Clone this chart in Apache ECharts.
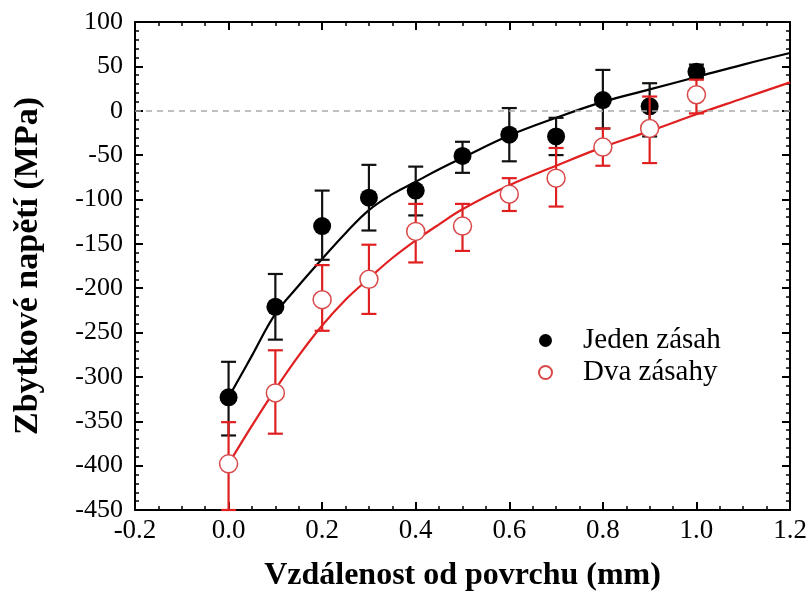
<!DOCTYPE html>
<html><head><meta charset="utf-8">
<script src="https://cdn.jsdelivr.net/npm/echarts@6/dist/echarts.min.js"></script>
<style>html,body{margin:0;padding:0;background:#fff}#c{width:811px;height:597px}</style>
</head><body><div id="c"></div><script>
// measured points
const xPoints  = [0.0, 0.1, 0.2, 0.3, 0.4, 0.5, 0.6, 0.7, 0.8, 0.9, 1.0];
const jedenMean = [-323, -221, -130, -98, -90, -51, -27, -29, 12, 5, 44];
const jedenLow  = [-366, -258, -168, -135, -118, -70, -57, -50, -20, -29, 37];
const jedenHigh = [-283, -184, -90, -61, -63, -35, 3, -8, 46, 31, 52];
const dvaMean = [-398, -318, -213, -190, -136, -130, -94, -76, -41, -20, 18];
const dvaLow  = [-450, -364, -248, -229, -171, -158, -113, -108, -62, -59, -3];
const dvaHigh = [-351, -270, -174, -151, -105, -105, -76, -42, -20, 16, 35];
// fitted curves
const fitX      = [0, 0.05, 0.1, 0.15, 0.2, 0.25, 0.3, 0.35, 0.4, 0.45, 0.5, 0.6, 0.7, 0.8, 0.9, 1.0, 1.1, 1.2];
const jedenFit  = [-323, -276, -229, -197, -167, -138, -112, -94, -80, -66, -53, -28, -8, 10, 24, 38, 52, 65];
const dvaFit    = [-398, -355, -314, -276, -242, -213, -189, -166, -146, -128, -111, -84, -62, -41, -23, -4, 14, 32];
const legendNames = ['Jeden zásah', 'Dva zásahy'];
const xTickLabels = ['-0.2','0.0','0.2','0.4','0.6','0.8','1.0','1.2'];

const serif = '"Liberation Serif", "Times New Roman", serif';
const zip2 = (a, b) => a.map((v, i) => [v, b[i]]);
const zip3 = (a, b, c) => a.map((v, i) => [v, b[i], c[i]]);

function errRender(color) {
  return function (params, api) {
    const x = api.value(0), lo = api.value(1), hi = api.value(2);
    const p1 = api.coord([x, hi]), p2 = api.coord([x, lo]);
    const w = 7.5;
    const st = { stroke: color, lineWidth: 2.2 };
    return { type: 'group', children: [
      { type: 'line', shape: { x1: p1[0], y1: p1[1], x2: p2[0], y2: p2[1] }, style: st },
      { type: 'line', shape: { x1: p1[0] - w, y1: p1[1], x2: p1[0] + w, y2: p1[1] }, style: st },
      { type: 'line', shape: { x1: p2[0] - w, y1: p2[1], x2: p2[0] + w, y2: p2[1] }, style: st }
    ]};
  };
}

const axisLine = { show: true, onZero: false, lineStyle: { color: '#000', width: 2 } };
const majorTick = { show: true, inside: true, length: 8, lineStyle: { color: '#000', width: 2 } };
function xAx(pos, labels) {
  return {
    type: 'value', min: -0.2, max: 1.2, interval: 0.2, position: pos,
    axisLine: axisLine, axisTick: majorTick,
    minorTick: { show: true, splitNumber: 4, length: 4, lineStyle: { color: '#000', width: 1.5 } },
    splitLine: { show: false }, minorSplitLine: { show: false },
    axisLabel: labels ? { show: true, margin: 7, color: '#000', fontFamily: serif, fontSize: 27,
      formatter: v => xTickLabels[Math.round((v + 0.2) / 0.2)] } : { show: false },
    name: labels ? 'Vzdálenost od povrchu (mm)' : '', nameLocation: 'middle', nameGap: 50,
    nameTextStyle: { color: '#000', fontFamily: serif, fontSize: 32, fontWeight: 'bold' }
  };
}
function yAx(pos, labels) {
  return {
    type: 'value', min: -450, max: 100, interval: 50, position: pos,
    axisLine: axisLine, axisTick: majorTick,
    minorTick: { show: true, splitNumber: 5, length: 4, lineStyle: { color: '#000', width: 1.5 } },
    splitLine: { show: false }, minorSplitLine: { show: false },
    axisLabel: labels ? { show: true, margin: 12, color: '#000', fontFamily: serif, fontSize: 26 } : { show: false },
    name: labels ? 'Zbytkové napětí (MPa)' : '', nameLocation: 'middle', nameGap: 90, nameRotate: 90,
    nameTextStyle: { color: '#000', fontFamily: serif, fontSize: 34, fontWeight: 'bold' }
  };
}

const legText = { color: '#000', fontFamily: 'Liberation Serif', fontSize: 29, padding: [0, 0, 0, 26] };
const chart = echarts.init(document.getElementById('c'), null, { renderer: 'canvas' });
chart.setOption({
  animation: false,
  backgroundColor: '#fff',
  textStyle: { fontFamily: serif },
  grid: { left: 135, right: 21, top: 22, bottom: 86 },
  xAxis: [xAx('bottom', true), xAx('top', false)],
  yAxis: [yAx('left', true), yAx('right', false)],
  legend: {
    data: [{ name: legendNames[0], icon: 'circle', textStyle: legText },
           { name: legendNames[1], icon: 'circle', textStyle: legText }],
    orient: 'vertical', left: 538, top: 326, padding: 0, itemWidth: 13, itemHeight: 13, itemGap: 3,
    textStyle: legText
  },
  series: [
    { type: 'line', data: zip2(fitX, jedenFit), smooth: 0.4, symbol: 'none',
      lineStyle: { color: '#000', width: 2.2 }, z: 2, silent: true,
      markLine: { silent: true, symbol: 'none', label: { show: false },
        lineStyle: { color: '#aaa', type: [6, 5], width: 1.5 }, data: [{ yAxis: 0 }] } },
    { type: 'line', data: zip2(fitX, dvaFit), smooth: 0.4, symbol: 'none',
      lineStyle: { color: '#e02020', width: 2.2 }, z: 2, silent: true },
    { type: 'custom', data: zip3(xPoints, jedenLow, jedenHigh), renderItem: errRender('#111'),
      encode: { x: 0, y: [1, 2] }, z: 3, silent: true },
    { type: 'scatter', name: legendNames[0], data: zip2(xPoints, jedenMean), symbol: 'circle', symbolSize: 18,
      itemStyle: { color: '#000', opacity: 1 }, z: 4 },
    { type: 'custom', data: zip3(xPoints, dvaLow, dvaHigh), renderItem: errRender('#e02020'),
      encode: { x: 0, y: [1, 2] }, z: 5, silent: true },
    { type: 'scatter', name: legendNames[1], data: zip2(xPoints, dvaMean), symbol: 'circle', symbolSize: 18,
      itemStyle: { color: '#fff', borderColor: '#d84848', borderWidth: 1.5, opacity: 1 }, z: 6 }
  ]
});
</script></body></html>
